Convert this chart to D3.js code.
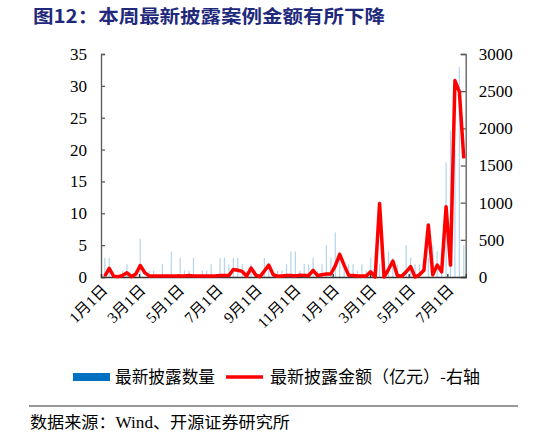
<!DOCTYPE html>
<html>
<head>
<meta charset="utf-8">
<script src="https://cdn.jsdelivr.net/npm/d3@7"></script>
<style>
  html, body { margin: 0; padding: 0; background: #fff; }
  svg { display: block; }
</style>
</head>
<body>
<svg id="chart" width="546" height="436"></svg>
<script>
// ---- data ----
const titleText = "图12：本周最新披露案例金额有所下降";
const seriesNames = ["最新披露数量", "最新披露金额（亿元）-右轴"];
const sourceText = "数据来源：Wind、开源证券研究所";
const firstWeek = "2020-01-07";
const lastWeek = "2021-07-27";
// weekly count of newly disclosed cases (left axis)
const counts = [3,3,0,0,1,2,0,1,6,0, 1,1,0,2,0,4,0,3,1,1, 3,0,1,1,2,0,3,3,2,3,
                3,2,1,2,1,0,3,1,0,1, 1,2,4,4,1,2,2,3,1,2, 5,3,7,4,2,2,2,1,2,1,
                3,0,2,1,4,3,2,0,5,3, 2,2,0,3,5,4,2,18,23,20, 33,5];
// weekly disclosed amount, 100 million yuan (right axis)
const amounts = [10,115,10,5,20,58,5,40,155,60, 15,15,15,15,15,15,15,15,15,20,
                 15,15,15,15,15,15,20,20,20,100, 90,75,10,120,30,5,80,160,30,10,
                 15,20,20,15,25,20,20,90,20,30, 40,40,150,305,160,25,20,15,15,15,
                 70,0,990,0,100,215,20,10,70,140, 0,30,90,700,30,160,70,946,160,2642,
                 2494,1597];
const tickDates = ["2020-01-01","2020-03-01","2020-05-01","2020-07-01","2020-09-01",
                   "2020-11-01","2021-01-01","2021-03-01","2021-05-01","2021-07-01"];
const tickLabels = ["1月1日","3月1日","5月1日","7月1日","9月1日",
                    "11月1日","1月1日","3月1日","5月1日","7月1日"];
const leftTicks = [0,5,10,15,20,25,30,35];
const rightTicks = [0,500,1000,1500,2000,2500,3000];

// ---- setup ----
const parse = d3.timeParse("%Y-%m-%d");
const weeks = d3.timeTuesday.range(parse(firstWeek), d3.timeDay.offset(parse(lastWeek), 1));
const svg = d3.select("#chart");
const L = 101, R = 465.7, T = 54, B = 277;

const x = d3.scaleTime()
  .domain([parse("2020-01-01"), parse("2021-07-30")])
  .range([L, R]);
const yL = d3.scaleLinear().domain([0, 35]).range([B, T]);
const yR = d3.scaleLinear().domain([0, 3000]).range([B, T]);

const serif = "'Liberation Serif', 'Times New Roman', 'Noto Sans CJK SC', serif";
const cjk = "'Noto Sans CJK SC', 'Liberation Serif', sans-serif";

// title
svg.append("text")
  .attr("x", 33).attr("y", 23)
  .attr("font-family", cjk)
  .attr("font-weight", "bold")
  .attr("font-size", 18)
  .attr("fill", "#1f2a7c")
  .attr("textLength", 352)
  .attr("lengthAdjust", "spacingAndGlyphs")
  .text(titleText);

// bars
const data = weeks.map((d, i) => ({ date: d, count: counts[i], amount: amounts[i] }));
svg.append("g")
  .selectAll("rect")
  .data(data)
  .join("rect")
  .attr("x", d => x(d.date) - 0.6)
  .attr("width", 1.2)
  .attr("y", d => yL(d.count))
  .attr("height", d => B - yL(d.count))
  .attr("fill", "#0070C0")
  .attr("fill-opacity", 0.3);

// axes
const axisColor = "#595959";
const gL = svg.append("g").attr("transform", `translate(${L},0)`)
  .call(d3.axisLeft(yL).tickValues(leftTicks).tickSize(-4).tickPadding(14));
const gR = svg.append("g").attr("transform", `translate(${R},0)`)
  .call(d3.axisRight(yR).tickValues(rightTicks).tickSize(-5).tickPadding(13)
        .tickFormat(d3.format("d")));
[gL, gR].forEach(g => {
  g.select(".domain").attr("stroke", axisColor).attr("stroke-width", 1.3);
  g.selectAll(".tick line").attr("stroke", axisColor).attr("stroke-width", 1.3);
  g.selectAll(".tick text")
    .attr("font-family", serif)
    .attr("font-size", 17)
    .attr("fill", "#000");
});

const gX = svg.append("g").attr("transform", `translate(0,${B})`)
  .call(d3.axisBottom(x).tickValues(tickDates.map(parse)).tickSize(-3)
        .tickFormat((d, i) => tickLabels[i]));
gX.select(".domain").attr("stroke", "#333").attr("stroke-width", 1.3);
gX.selectAll(".tick line").attr("stroke", "#333").attr("stroke-width", 1.3);
gX.selectAll(".tick text")
  .attr("font-family", serif)
  .attr("font-size", 15.5)
  .attr("fill", "#000")
  .attr("text-anchor", "end")
  .attr("dy", 0)
  .attr("y", 0)
  .attr("transform", "translate(7,14) rotate(-45)");

// line
const line = d3.line()
  .x(d => x(d.date))
  .y(d => yR(d.amount));
svg.append("path")
  .datum(data)
  .attr("fill", "none")
  .attr("stroke", "#ff0000")
  .attr("stroke-width", 3.5)
  .attr("stroke-linejoin", "round")
  .attr("d", line);

// legend
const lg = svg.append("g");
lg.append("rect").attr("x", 73).attr("y", 373).attr("width", 37).attr("height", 8).attr("fill", "#0070C0");
lg.append("text").attr("x", 115).attr("y", 383)
  .attr("font-family", cjk).attr("font-size", 16.5).attr("fill", "#000")
  .attr("textLength", 100).attr("lengthAdjust", "spacingAndGlyphs")
  .text(seriesNames[0]);
lg.append("line").attr("x1", 226).attr("x2", 263).attr("y1", 377).attr("y2", 377)
  .attr("stroke", "#ff0000").attr("stroke-width", 3.5);
lg.append("text").attr("x", 270).attr("y", 383)
  .attr("font-family", cjk).attr("font-size", 16.5).attr("fill", "#000")
  .attr("textLength", 210).attr("lengthAdjust", "spacingAndGlyphs")
  .text(seriesNames[1]);

// separator & source
svg.append("line").attr("x1", 29).attr("x2", 518).attr("y1", 406).attr("y2", 406)
  .attr("stroke", "#333").attr("stroke-width", 1.2);
svg.append("text").attr("x", 30).attr("y", 428)
  .attr("font-family", serif).attr("font-size", 16).attr("fill", "#000")
  .attr("textLength", 260).attr("lengthAdjust", "spacingAndGlyphs")
  .text(sourceText);
</script>
</body>
</html>
